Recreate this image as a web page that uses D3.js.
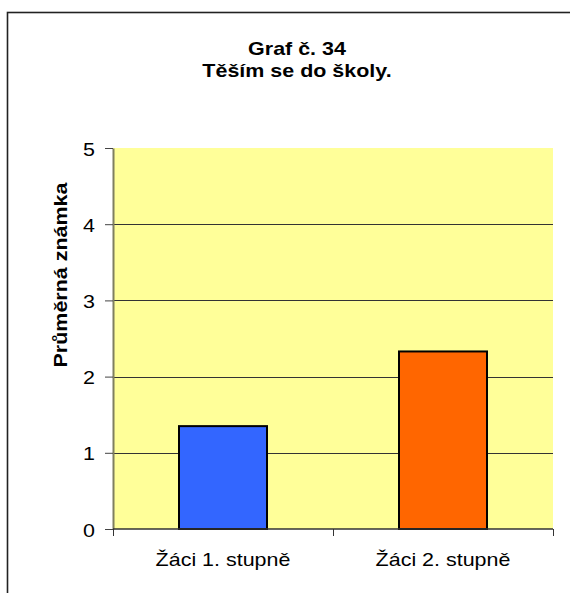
<!DOCTYPE html>
<html>
<head>
<meta charset="utf-8">
<script src="https://cdn.jsdelivr.net/npm/d3@7"></script>
<style>
  body { margin: 0; background: #fff; overflow: hidden; }
  svg { display: block; font-family: "Liberation Sans", Arial, sans-serif; }
</style>
</head>
<body>
<svg id="chart" width="570" height="593"></svg>
<script>
// data
const categories = ['Žáci 1. stupně', 'Žáci 2. stupně'];
const values = [1.35, 2.33];
const colors = ['#3366FF', '#FF6600'];
const yTicks = [0, 1, 2, 3, 4, 5];
const titleLines = ['Graf č. 34', 'Těším se do školy.'];
const yLabel = 'Průměrná známka';

// text looks a bit wider than Arial in the picture
const stretch = 1.13;

const svg = d3.select('#chart');

// plot area
const plot = {left: 113, right: 553, top: 148, bottom: 529};

const y = d3.scaleLinear([0, 5], [plot.bottom, plot.top]);
const pad = 0.6;
const x = d3.scaleBand(categories, [plot.left, plot.right])
            .paddingInner(pad).paddingOuter(pad / 2);

// outer frame (only left and top edge visible)
svg.append('rect')
   .attr('x', 7.5).attr('y', 12.5)
   .attr('width', 700).attr('height', 700)
   .style('fill', 'none').style('stroke', '#222').style('stroke-width', 1.6);

// title
svg.append('g').selectAll('text').data(titleLines).join('text')
   .attr('transform', (d, i) => `translate(297,${54.5 + i * 22}) scale(${stretch},1)`)
   .attr('text-anchor', 'middle')
   .style('font-size', '19px').style('font-weight', 'bold')
   .text(d => d);

// yellow background
svg.append('rect')
   .attr('x', plot.left).attr('y', plot.top)
   .attr('width', plot.right - plot.left).attr('height', plot.bottom - plot.top)
   .style('fill', '#FFFF99');

// gridlines
svg.append('g').selectAll('line').data(yTicks.filter(d => d > 0 && d < 5)).join('line')
   .attr('x1', plot.left).attr('x2', plot.right)
   .attr('y1', d => Math.round(y(d)) + 0.5).attr('y2', d => Math.round(y(d)) + 0.5)
   .style('stroke', '#333').style('stroke-width', 1);

// bars
svg.append('g').selectAll('rect').data(values).join('rect')
   .attr('x', (d, i) => x(categories[i]))
   .attr('y', d => y(d))
   .attr('width', x.bandwidth())
   .attr('height', d => y(0) - y(d))
   .style('fill', (d, i) => colors[i])
   .style('stroke', '#000').style('stroke-width', 2);

// y axis
const yAxis = d3.axisLeft(y).tickValues(yTicks).tickFormat(d3.format('d'))
                .tickSizeInner(8).tickSizeOuter(0).tickPadding(10);
const yAxisDraw = svg.append('g').attr('transform', `translate(${plot.left},0)`).call(yAxis);
yAxisDraw.select('.domain').style('stroke', '#7f7f5f').style('stroke-width', 2);
yAxisDraw.selectAll('.tick line').style('stroke', '#444');
yAxisDraw.selectAll('.tick text')
   .attr('x', null).attr('dy', null)
   .attr('transform', `translate(-18,7) scale(${stretch},1)`)
   .style('font-size', '19px').style('fill', '#000')
   .style('font-family', '"Liberation Sans", Arial, sans-serif');

// x axis line + ticks at band edges
const step = x.step();
const edges = d3.range(categories.length + 1).map(i => plot.left + i * step);
svg.append('line')
   .attr('x1', plot.left).attr('x2', plot.right)
   .attr('y1', y(0)).attr('y2', y(0))
   .style('stroke', '#333').style('stroke-width', 1.6);
svg.append('g').selectAll('line').data(edges).join('line')
   .attr('x1', d => Math.round(d) + 0.5).attr('x2', d => Math.round(d) + 0.5)
   .attr('y1', y(0)).attr('y2', y(0) + 7)
   .style('stroke', '#333').style('stroke-width', 1);

// category labels
svg.append('g').selectAll('text').data(categories).join('text')
   .attr('transform', d => `translate(${x(d) + x.bandwidth() / 2},566) scale(${stretch},1)`)
   .attr('text-anchor', 'middle')
   .style('font-size', '19px')
   .text(d => d);

// y axis title
svg.append('text')
   .attr('transform', `translate(67,275) rotate(-90) scale(${stretch},1)`)
   .attr('text-anchor', 'middle')
   .style('font-size', '19px').style('font-weight', 'bold')
   .text(yLabel);
</script>
</body>
</html>
